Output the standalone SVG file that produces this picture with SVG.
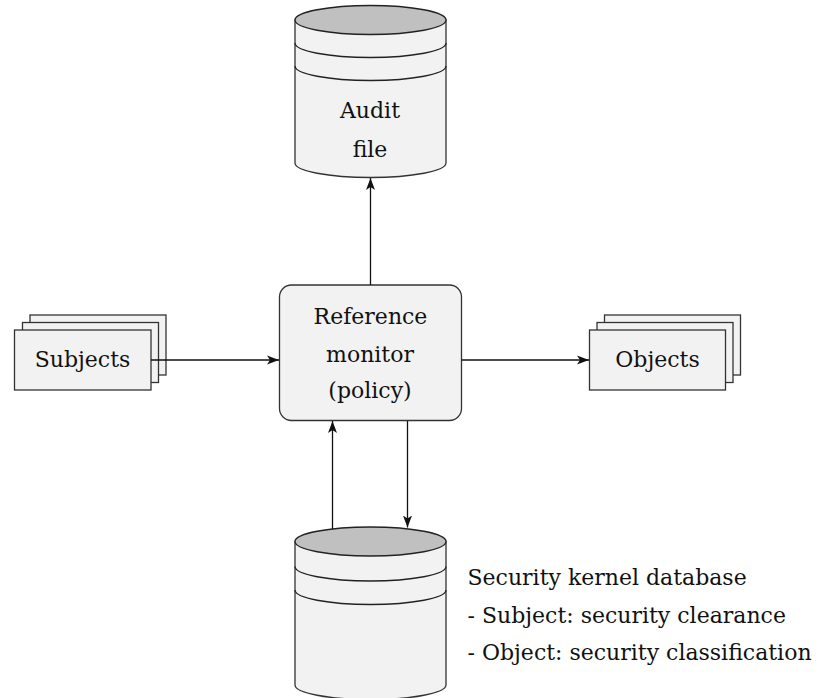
<svg xmlns="http://www.w3.org/2000/svg" width="829" height="698" viewBox="0 0 829 698">
<style>
.box{fill:#f2f2f2;stroke:#333;stroke-width:1.3}
.top{fill:#c0c0c0;stroke:#222;stroke-width:1.3}
.band{fill:none;stroke:#222;stroke-width:1.3}
text{fill:#111;font-size:22px}
.mid{text-anchor:middle}
.conn{stroke:#111;stroke-width:1.3;fill:none}
</style>
<defs>
<marker id="arr" markerUnits="userSpaceOnUse" markerWidth="14" markerHeight="10" refX="12" refY="5" orient="auto">
<path d="M0,0.5 L12,5 L0,9.5 L3,5 Z" fill="#111"/>
</marker>
</defs>
<rect width="829" height="698" fill="#fff"/>

<g id="audit">
<path class="box" d="M295,20 L295,163 A75.5,14.5 0 0 0 446,163 L446,20 Z"/>
<ellipse class="top" cx="370.5" cy="20" rx="75.5" ry="14.5"/>
<path class="band" d="M295,43 A75.5,14.5 0 0 0 446,43"/>
<path class="band" d="M295,66 A75.5,14.5 0 0 0 446,66"/>
<text class="mid" font-family="DejaVu Serif" x="370" y="118">Audit</text>
<text class="mid" font-family="DejaVu Serif" x="370" y="157">file</text>
</g>

<g id="subjects">
<rect class="box" x="30" y="315" width="136" height="60"/>
<rect class="box" x="22.5" y="322.5" width="136" height="60"/>
<rect class="box" x="14.5" y="330" width="136.5" height="60"/>
<text class="mid" font-family="DejaVu Serif" x="82.5" y="367">Subjects</text>
</g>

<g id="objects">
<rect class="box" x="604.5" y="315" width="136" height="60"/>
<rect class="box" x="597" y="322.5" width="136" height="60"/>
<rect class="box" x="589.5" y="330" width="136" height="60"/>
<text class="mid" font-family="DejaVu Serif" x="657.5" y="367">Objects</text>
</g>

<g id="monitor">
<rect class="box" x="279.5" y="285" width="182" height="135.5" rx="12" ry="12"/>
<text class="mid" font-family="DejaVu Serif" x="370.5" y="323.5">Reference</text>
<text class="mid" font-family="DejaVu Serif" x="370" y="361.5">monitor</text>
<text class="mid" font-family="DejaVu Serif" x="370" y="398">(policy)</text>
</g>

<g id="database">
<path class="box" d="M295,541.5 L295,685 A75.5,14.5 0 0 0 446,685 L446,541.5 Z"/>
<ellipse class="top" cx="370.5" cy="541.5" rx="75.5" ry="14.5"/>
<path class="band" d="M295,566.5 A75.5,14.5 0 0 0 446,566.5"/>
<path class="band" d="M295,590 A75.5,14.5 0 0 0 446,590"/>
</g>

<g id="db-label">
<text font-family="DejaVu Serif" x="467.5" y="585">Security kernel database</text>
<text font-family="DejaVu Serif" x="467.5" y="623">- Subject: security clearance</text>
<text font-family="DejaVu Serif" x="467.5" y="660">- Object: security classification</text>
</g>

<g id="connectors">
<path class="conn" d="M370.5,285 L370.5,178" marker-end="url(#arr)"/>
<path class="conn" d="M151,360 L279,360" marker-end="url(#arr)"/>
<path class="conn" d="M461.5,360 L589,360" marker-end="url(#arr)"/>
<path class="conn" d="M332.5,529 L332.5,421" marker-end="url(#arr)"/>
<path class="conn" d="M407.5,421 L407.5,527.5" marker-end="url(#arr)"/>
</g>
</svg>
